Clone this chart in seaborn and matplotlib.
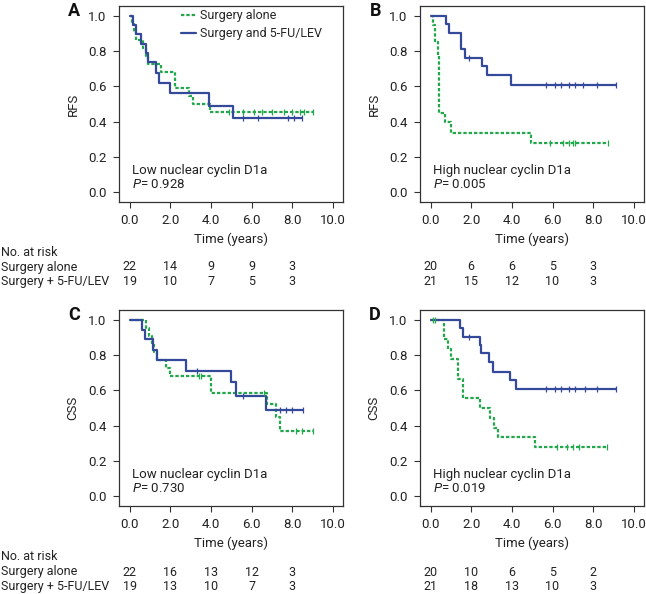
import numpy as np
import pandas as pd
import matplotlib
matplotlib.use("Agg")
import matplotlib.pyplot as plt
import matplotlib.transforms as mtransforms
import seaborn as sns

# ---- data ----
# each curve: step times, survival after each step, last follow-up time, censor times
a_alone_t = [0, 0.1, 0.2, 0.3, 0.65, 0.8, 0.9, 1.57, 2.23, 2.9, 3.1, 3.96]
a_alone_s = [1.0, 0.955, 0.909, 0.864, 0.818, 0.773, 0.727, 0.682, 0.591, 0.545, 0.5, 0.455]
a_alone_end = 9.0
a_alone_cens = [4.9, 5.6, 6.1, 6.5, 7.0, 7.6, 8.0, 8.4, 8.6, 9.0]
a_chemo_t = [0, 0.15, 0.3, 0.55, 0.8, 0.9, 1.3, 1.45, 2.0, 3.9, 5.1]
a_chemo_s = [1.0, 0.947, 0.895, 0.842, 0.789, 0.737, 0.674, 0.619, 0.562, 0.491, 0.421]
a_chemo_end = 8.5
a_chemo_cens = [5.6, 6.3, 7.8, 8.1, 8.5]

b_alone_t = [0, 0.1, 0.2, 0.35, 0.42, 0.72, 1.0, 4.92]
b_alone_s = [1.0, 0.95, 0.85, 0.78, 0.45, 0.4, 0.338, 0.28]
b_alone_end = 8.75
b_alone_cens = [5.9, 6.5, 6.8, 7.0, 7.1, 8.75]
b_chemo_t = [0, 0.77, 0.93, 1.5, 1.67, 2.55, 2.8, 3.95]
b_chemo_s = [1.0, 0.952, 0.905, 0.81, 0.762, 0.714, 0.667, 0.61]
b_chemo_end = 9.1
b_chemo_cens = [1.9, 5.7, 6.1, 6.4, 6.8, 7.1, 7.5, 8.2, 9.1]

c_alone_t = [0, 0.83, 0.95, 1.1, 1.2, 1.35, 1.8, 2.0, 4.0, 6.77, 7.2, 7.4]
c_alone_s = [1.0, 0.955, 0.909, 0.864, 0.818, 0.773, 0.727, 0.682, 0.586, 0.52, 0.45, 0.367]
c_alone_end = 9.0
c_alone_cens = [3.4, 3.5, 6.6, 8.2, 8.5, 9.0]
c_chemo_t = [0, 0.61, 0.75, 1.15, 1.35, 2.8, 5.0, 5.23, 6.72]
c_chemo_s = [1.0, 0.945, 0.89, 0.83, 0.773, 0.71, 0.645, 0.57, 0.49]
c_chemo_end = 8.55
c_chemo_cens = [3.3, 5.6, 7.4, 7.7, 8.0, 8.55]

d_alone_t = [0, 0.67, 0.85, 1.0, 1.35, 1.58, 2.42, 2.92, 3.1, 3.33, 5.13]
d_alone_s = [1.0, 0.89, 0.833, 0.778, 0.667, 0.556, 0.5, 0.444, 0.389, 0.333, 0.278]
d_alone_end = 8.7
d_alone_cens = [0.1, 0.2, 6.2, 6.7, 7.0, 7.3, 8.7]
d_chemo_t = [0, 1.43, 1.58, 2.42, 2.5, 2.85, 3.05, 3.92, 4.22]
d_chemo_s = [1.0, 0.952, 0.905, 0.857, 0.81, 0.762, 0.707, 0.657, 0.605]
d_chemo_end = 9.1
d_chemo_cens = [1.9, 5.7, 6.1, 6.4, 6.8, 7.1, 7.6, 8.2, 9.1]

risk_times = [0, 2, 4, 6, 8]
a_risk_alone = [22, 14, 9, 9, 3]
a_risk_chemo = [19, 10, 7, 5, 3]
b_risk_alone = [20, 6, 6, 5, 3]
b_risk_chemo = [21, 15, 12, 10, 3]
c_risk_alone = [22, 16, 13, 12, 3]
c_risk_chemo = [19, 13, 10, 7, 3]
d_risk_alone = [20, 10, 6, 5, 2]
d_risk_chemo = [21, 18, 13, 10, 3]

panel_letters = ["A", "B", "C", "D"]
ylabels = ["RFS", "RFS", "CSS", "CSS"]
subgroups = ["Low nuclear cyclin D1a", "High nuclear cyclin D1a",
             "Low nuclear cyclin D1a", "High nuclear cyclin D1a"]
pvalues = ["0.928", "0.005", "0.730", "0.019"]

GREEN = "#22a84a"
BLUE = "#35499a"

sns.set_style("ticks")
plt.rcParams["font.family"] = ["Roboto", "DejaVu Sans"]
plt.rcParams["mathtext.fontset"] = "custom"
plt.rcParams["mathtext.it"] = "Roboto:italic"
plt.rcParams["mathtext.rm"] = "Roboto"
FS = 9.0
TICK_FS = 9.5
TXT = "#222222"

fig = plt.figure(figsize=(6.46, 5.94), dpi=100)
W, H = 646, 594


def px_axes(left, top, right, bottom):
    return fig.add_axes([left / W, 1 - bottom / H, (right - left) / W, (bottom - top) / H])


axes = [px_axes(119, 6, 343, 202), px_axes(420, 6, 644, 202),
        px_axes(119, 310, 343, 506), px_axes(420, 310, 644, 506)]

curves = [
    [(a_alone_t, a_alone_s, a_alone_end, a_alone_cens), (a_chemo_t, a_chemo_s, a_chemo_end, a_chemo_cens)],
    [(b_alone_t, b_alone_s, b_alone_end, b_alone_cens), (b_chemo_t, b_chemo_s, b_chemo_end, b_chemo_cens)],
    [(c_alone_t, c_alone_s, c_alone_end, c_alone_cens), (c_chemo_t, c_chemo_s, c_chemo_end, c_chemo_cens)],
    [(d_alone_t, d_alone_s, d_alone_end, d_alone_cens), (d_chemo_t, d_chemo_s, d_chemo_end, d_chemo_cens)],
]
risks = [(a_risk_alone, a_risk_chemo), (b_risk_alone, b_risk_chemo),
         (c_risk_alone, c_risk_chemo), (d_risk_alone, d_risk_chemo)]


def step_value(t, s, x):
    idx = np.searchsorted(t, x, side="right") - 1
    return np.asarray(s)[idx]


for i, ax in enumerate(axes):
    for (t, s, end, cens), col, lab, dash in zip(
            curves[i], [GREEN, BLUE], ["Surgery alone", "Surgery and 5-FU/LEV"],
            [(1.5, 0.9), None]):
        df = pd.DataFrame({"time": list(t) + [end], "surv": list(s) + [s[-1]]})
        kw = dict(drawstyle="steps-post", color=col, linewidth=1.6, label=lab)
        if dash is not None:
            kw["dashes"] = dash
        sns.lineplot(data=df, x="time", y="surv", ax=ax, estimator=None, sort=False, **kw)
        cdf = pd.DataFrame({"time": cens, "surv": step_value(t, s, cens)})
        sns.scatterplot(data=cdf, x="time", y="surv", ax=ax, marker="|", s=22,
                        color=col, linewidth=0.9, zorder=3)

    ax.set_xlim(-0.52, 10.5)
    ax.set_ylim(-0.056, 1.056)
    ax.set_xticks([0, 2, 4, 6, 8, 10])
    ax.set_xticklabels(["0.0", "2.0", "4.0", "6.0", "8.0", "10.0"], fontsize=TICK_FS, color=TXT)
    ax.set_yticks([0, 0.2, 0.4, 0.6, 0.8, 1.0])
    ax.set_yticklabels(["0.0", "0.2", "0.4", "0.6", "0.8", "1.0"], fontsize=TICK_FS, color=TXT)
    ax.tick_params(length=4, width=0.8, color="#333333", pad=5)
    for sp in ax.spines.values():
        sp.set_visible(True)
        sp.set_color("#333333")
        sp.set_linewidth(0.9)
    ax.set_xlabel("Time (years)", fontsize=TICK_FS, labelpad=4, color=TXT)
    ax.set_ylabel(ylabels[i], fontsize=TICK_FS, labelpad=6, color=TXT)
    ax.text(0.1, 0.125, subgroups[i], fontsize=TICK_FS, va="center", color=TXT)
    ax.text(0.1, 0.045, "$P$= " + pvalues[i], fontsize=TICK_FS, va="center", color=TXT)
    ax.text(-0.2, 0.975, panel_letters[i], transform=ax.transAxes, fontsize=13,
            fontweight="bold", va="center", ha="center", color="#111111")
    if ax.get_legend() is not None:
        ax.get_legend().remove()

    # numbers at risk
    trans = mtransforms.blended_transform_factory(ax.transData, fig.transFigure)
    top_row = 267 if i < 2 else 572
    for r, vals in enumerate(risks[i]):
        for x, v in zip(risk_times, vals):
            ax.text(x, 1 - (top_row + r * 14.5) / H, str(v), transform=trans,
                    fontsize=FS, ha="center", va="center", clip_on=False, color=TXT)

leg_handles = [axes[0].lines[0], axes[0].lines[1]]
axes[0].legend(leg_handles, ["Surgery alone", "Surgery and 5-FU/LEV"], frameon=False,
               loc="upper left", bbox_to_anchor=(0.255, 1.01), fontsize=FS,
               handlelength=1.2, handletextpad=0.3, borderaxespad=0, labelspacing=0.4)

for top in (252, 557):
    fig.text(1 / W, 1 - top / H, "No. at risk", fontsize=FS, va="center", color=TXT)
    fig.text(1 / W, 1 - (top + 15) / H, "Surgery alone", fontsize=FS, va="center", color=TXT)
    fig.text(1 / W, 1 - (top + 29.5) / H, "Surgery + 5-FU/LEV", fontsize=FS, va="center", color=TXT)

fig.savefig("out.png", dpi=100)
